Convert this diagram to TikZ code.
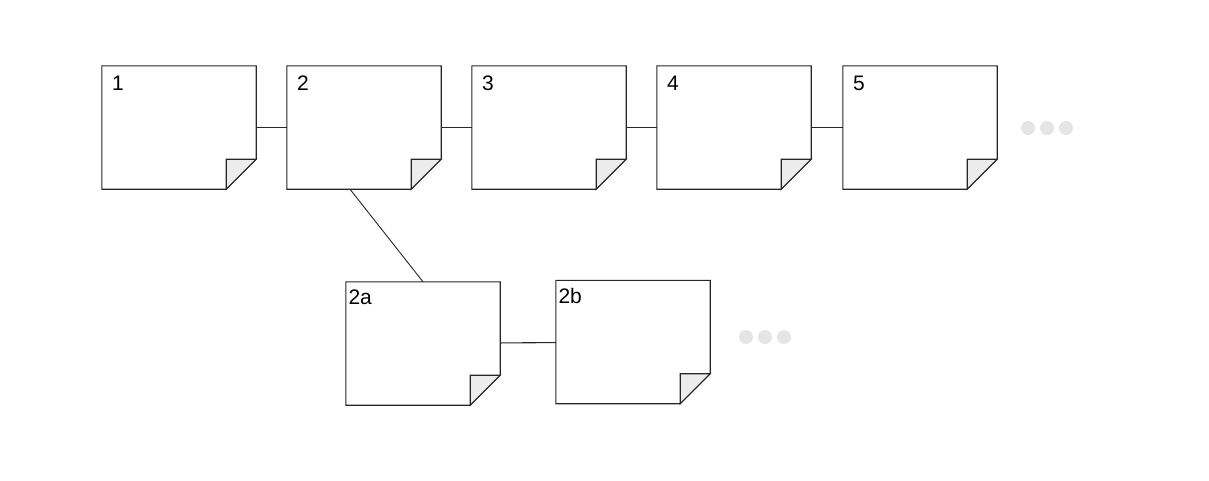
\documentclass[tikz,border=0pt]{standalone}
\usepackage{fontspec}
\setmainfont{Liberation Sans}
\usepackage{tikz}
\usetikzlibrary{positioning,calc}

\begin{document}
\begin{tikzpicture}[
  x=1pt, y=-1pt,
  font=\fontsize{21}{24}\selectfont,
  notebox/.style={rectangle, draw=none, minimum width=154pt, minimum height=123pt, inner sep=0pt},
  notelabel/.style={label={[anchor=north west, inner sep=0pt, xshift=10pt, yshift=-10pt]north west:#1}},
  sublabel/.style={label={[anchor=north west, inner sep=0pt, xshift=2.5pt, yshift=-8pt]north west:#1}},
  linkline/.style={draw=black!85, line width=1.1pt},
  moredot/.style={circle, fill=gray!20, draw=none, minimum size=14pt, inner sep=0pt}
]
  \useasboundingbox (0,0) rectangle (1209,480);
  % notes on the main line
  \node[notebox, notelabel=1] (n1) at (179,127.5) {};
  \node[notebox, notelabel=2] (n2) at (364,127.5) {};
  \node[notebox, notelabel=3] (n3) at (549,127.5) {};
  \node[notebox, notelabel=4] (n4) at (734,127.5) {};
  \node[notebox, notelabel=5] (n5) at (920,127.5) {};
  % branch
  \node[notebox, sublabel=2a] (n2a) at (423,343.5) {};
  \node[notebox, sublabel=2b] (n2b) at (633,342) {};
  % folded-corner outlines
  \foreach \nn in {n1,n2,n3,n4,n5,n2a,n2b} {
    \draw[linkline] (\nn.north west) -- (\nn.north east) -- ([yshift=30pt]\nn.south east)
      -- ([xshift=-30pt]\nn.south east) -- (\nn.south west) -- cycle;
    \draw[linkline, fill=gray!15] ([xshift=-30pt]\nn.south east) -- ([xshift=-30pt, yshift=30pt]\nn.south east)
      -- ([yshift=30pt]\nn.south east) -- cycle;
  }
  \draw[linkline] (n1) -- (n2);
  \draw[linkline] (n2) -- (n3);
  \draw[linkline] (n3) -- (n4);
  \draw[linkline] (n4) -- (n5);
  \draw[linkline, line width=0.9pt] ([xshift=-14pt]n2.south) -- (n2a.north);
  \draw[linkline] (n2a) -- (n2b);
  % more to come
  \foreach \dx [count=\k] in {0,19,38} {
    \node[moredot] (dotA\k) at (1028+\dx,128) {};
    \node[moredot] (dotB\k) at (746+\dx,337) {};
  }
\end{tikzpicture}
\end{document}
